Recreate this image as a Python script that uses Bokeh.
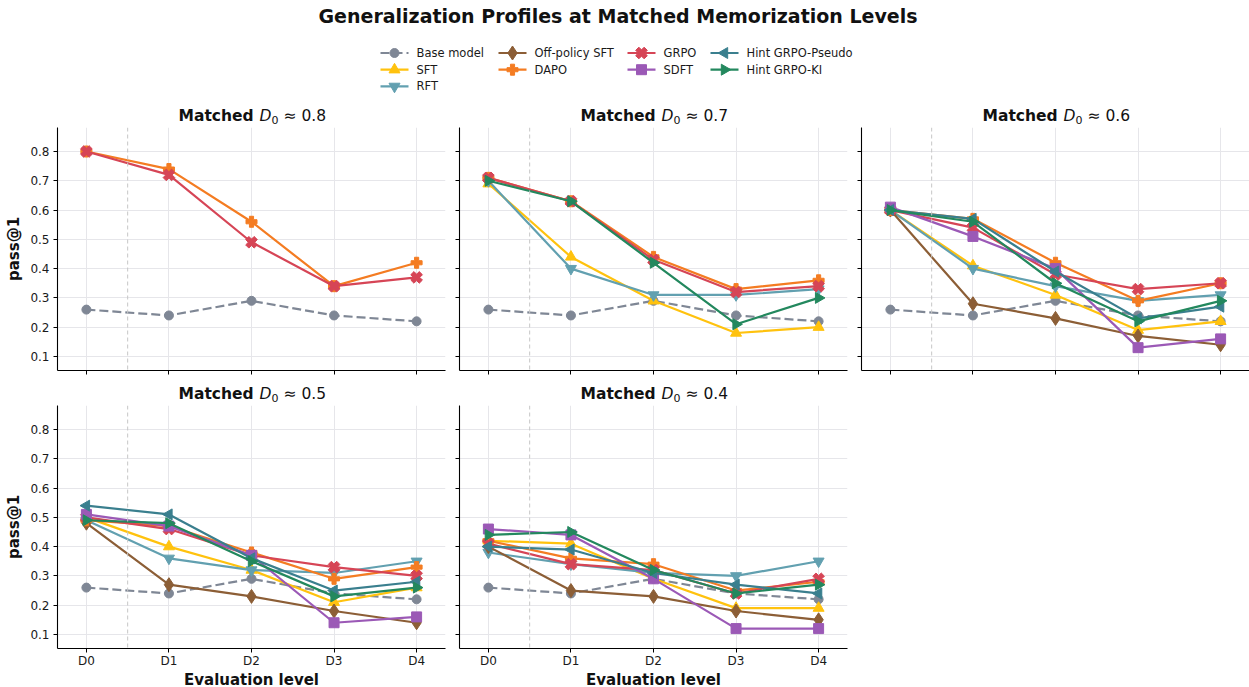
import math

from bokeh.embed import file_html
from bokeh.layouts import column, row
from bokeh.models import (ColumnDataSource, CustomJSTickFormatter, FixedTicker,
                          Label, PrintfTickFormatter, Range1d, Span)
from bokeh.plotting import figure
from bokeh.resources import INLINE

FONT = "DejaVu Sans"

# ---- data -----------------------------------------------------------------
LEVELS = ["D0", "D1", "D2", "D3", "D4"]
PANELS = ["0.8", "0.7", "0.6", "0.5", "0.4"]

BASE = [0.26, 0.24, 0.29, 0.24, 0.22]

SFT = {
    "0.7": [0.69, 0.44, 0.29, 0.18, 0.20],
    "0.6": [0.60, 0.41, 0.31, 0.19, 0.22],
    "0.5": [0.50, 0.40, 0.32, 0.21, 0.26],
    "0.4": [0.42, 0.41, 0.29, 0.19, 0.19],
}
RFT = {
    "0.7": [0.70, 0.40, 0.31, 0.31, 0.33],
    "0.6": [0.60, 0.40, 0.34, 0.29, 0.31],
    "0.5": [0.49, 0.36, 0.32, 0.31, 0.35],
    "0.4": [0.38, 0.34, 0.31, 0.30, 0.35],
}
OFF_POLICY_SFT = {
    "0.6": [0.60, 0.28, 0.23, 0.17, 0.14],
    "0.5": [0.48, 0.27, 0.23, 0.18, 0.14],
    "0.4": [0.40, 0.25, 0.23, 0.18, 0.15],
}
DAPO = {
    "0.8": [0.80, 0.74, 0.56, 0.34, 0.42],
    "0.7": [0.71, 0.63, 0.44, 0.33, 0.36],
    "0.6": [0.60, 0.57, 0.42, 0.29, 0.35],
    "0.5": [0.49, 0.47, 0.38, 0.29, 0.33],
    "0.4": [0.42, 0.36, 0.34, 0.25, 0.28],
}
GRPO = {
    "0.8": [0.80, 0.72, 0.49, 0.34, 0.37],
    "0.7": [0.71, 0.63, 0.43, 0.32, 0.34],
    "0.6": [0.60, 0.54, 0.38, 0.33, 0.35],
    "0.5": [0.50, 0.46, 0.37, 0.33, 0.30],
    "0.4": [0.41, 0.34, 0.32, 0.24, 0.29],
}
SDFT = {
    "0.6": [0.61, 0.51, 0.40, 0.13, 0.16],
    "0.5": [0.51, 0.47, 0.37, 0.14, 0.16],
    "0.4": [0.46, 0.44, 0.29, 0.12, 0.12],
}
HINT_PSEUDO = {
    "0.6": [0.60, 0.57, 0.39, 0.23, 0.27],
    "0.5": [0.54, 0.51, 0.36, 0.25, 0.28],
    "0.4": [0.40, 0.39, 0.31, 0.27, 0.24],
}
HINT_KI = {
    "0.7": [0.70, 0.63, 0.42, 0.21, 0.30],
    "0.6": [0.60, 0.56, 0.35, 0.22, 0.29],
    "0.5": [0.49, 0.48, 0.35, 0.23, 0.26],
    "0.4": [0.44, 0.45, 0.32, 0.24, 0.27],
}

METHODS = [
    ("Base model", {p: BASE for p in PANELS}),
    ("SFT", SFT),
    ("RFT", RFT),
    ("Off-policy SFT", OFF_POLICY_SFT),
    ("DAPO", DAPO),
    ("GRPO", GRPO),
    ("SDFT", SDFT),
    ("Hint GRPO-Pseudo", HINT_PSEUDO),
    ("Hint GRPO-KI", HINT_KI),
]

# ---- styles ---------------------------------------------------------------
STYLE = {
    "Base model":       dict(color="#7f8795", marker="circle", angle=0.0, size=9, dash="9 4"),
    "SFT":              dict(color="#ffc20e", marker="triangle", angle=0.0, size=11, dash="solid"),
    "RFT":              dict(color="#62a0b0", marker="inverted_triangle", angle=0.0, size=11, dash="solid"),
    "Off-policy SFT":   dict(color="#8c5e36", marker="diamond", angle=0.0, size=14, dash="solid"),
    "DAPO":             dict(color="#f47c22", marker="plus", angle=0.0, size=11, dash="solid"),
    "GRPO":             dict(color="#d64556", marker="plus", angle=math.pi / 4, size=12, dash="solid"),
    "SDFT":             dict(color="#9b59b6", marker="square", angle=0.0, size=10, dash="solid"),
    "Hint GRPO-Pseudo": dict(color="#3a7f8e", marker="triangle", angle=math.pi / 2, size=11, dash="solid"),
    "Hint GRPO-KI":     dict(color="#23885e", marker="triangle", angle=-math.pi / 2, size=11, dash="solid"),
}
LINE_W = 2.2

PAGE_W, PAGE_H = 1249, 687
FRAME_W, FRAME_H = 388, 243
X_LO, X_HI = -0.35, 4.35
Y_LO, Y_HI = 0.052, 0.882

# frame left edges of the three columns (pixels) -> column centres for titles
COL_LEFT = [57, 459, 861]
COL_CENTER = [c + FRAME_W / 2 for c in COL_LEFT]


def strip(height):
    """A blank full-width band whose data space equals its pixel space."""
    s = figure(width=PAGE_W, height=height, title=None,
               x_range=Range1d(0, PAGE_W), y_range=Range1d(0, height),
               output_backend="svg", toolbar_location=None, tools="",
               x_axis_type=None, y_axis_type=None,
               min_border_left=0, min_border_right=0, min_border_top=0, min_border_bottom=0)
    s.outline_line_color = None
    s.xgrid.visible = False
    s.ygrid.visible = False
    return s


def panel_title(s, cx, level, mid):
    """Bold 'Matched' followed by an italic D with subscript 0 and the level."""
    common = dict(text_font=FONT, text_color="#111111",
                  text_baseline="middle", text_align="left")
    s.add_layout(Label(x=cx - 73, y=mid, text="Matched", text_font_size="15.5px",
                       text_font_style="bold", **common))
    s.add_layout(Label(x=cx + 8, y=mid, text="D", text_font_size="15.5px",
                       text_font_style="italic", **common))
    s.add_layout(Label(x=cx + 20, y=mid - 4, text="0", text_font_size="11px", **common))
    s.add_layout(Label(x=cx + 32, y=mid, text="\u2248 " + level,
                       text_font_size="15.5px", **common))


def make_panel(level, show_x, show_y, borders):
    left, right, bottom = borders
    p = figure(width=left + FRAME_W + right, height=FRAME_H + bottom, title=None,
               x_range=Range1d(X_LO, X_HI), y_range=Range1d(Y_LO, Y_HI),
               output_backend="svg", toolbar_location=None, tools="",
               min_border_left=left, min_border_right=right,
               min_border_top=0, min_border_bottom=bottom)
    p.outline_line_color = None
    p.background_fill_color = "white"

    for ax in (p.xaxis[0], p.yaxis[0]):
        ax.axis_line_color = "#000000"
        ax.axis_line_width = 1.1
        ax.major_tick_line_color = "#000000"
        ax.major_tick_line_width = 1.0
        ax.major_tick_out = 4
        ax.major_tick_in = 0
        ax.minor_tick_line_color = None
        ax.major_label_text_font = FONT
        ax.major_label_text_font_size = "12px"
        ax.major_label_text_color = "#1a1a1a"
        ax.axis_label_text_font = FONT
        ax.axis_label_text_font_size = "15px"
        ax.axis_label_text_font_style = "bold"
        ax.axis_label_text_color = "#111111"
        ax.axis_label_standoff = 4
    p.xaxis.major_label_standoff = 1
    p.yaxis.major_label_standoff = 4

    p.xaxis.ticker = FixedTicker(ticks=list(range(len(LEVELS))))
    p.yaxis.ticker = FixedTicker(ticks=[round(0.1 * i, 1) for i in range(1, 9)])

    if show_x:
        p.xaxis.major_label_overrides = {i: lab for i, lab in enumerate(LEVELS)}
    else:
        p.xaxis.major_label_overrides = {i: "" for i in range(len(LEVELS))}
        p.xaxis.major_label_text_font_size = "0px"
        p.xaxis.major_label_standoff = 0
    if show_y:
        p.yaxis.formatter = PrintfTickFormatter(format="%.1f")
        p.yaxis.axis_label = "pass@1"
    else:
        p.yaxis.formatter = CustomJSTickFormatter(code="return ''")
        p.yaxis.major_label_text_font_size = "0px"
        p.yaxis.major_label_standoff = 0

    p.xgrid.grid_line_color = "#e6e6ea"
    p.ygrid.grid_line_color = "#e6e6ea"
    p.xgrid.grid_line_width = 1
    p.ygrid.grid_line_width = 1

    p.add_layout(Span(location=0.5, dimension="height", line_color="#c6c6c6",
                      line_width=1, line_dash="4 3"))

    xs = list(range(len(LEVELS)))
    for name, table in METHODS:
        if level not in table:
            continue
        st = STYLE[name]
        src = ColumnDataSource(dict(x=xs, y=table[level]))
        p.line("x", "y", source=src, line_color=st["color"], line_width=LINE_W,
               line_dash=st["dash"])
        p.scatter("x", "y", source=src, marker=st["marker"], size=st["size"],
                  angle=st["angle"], fill_color=st["color"], line_color=st["color"],
                  line_width=1)
    return p


# ---- header: suptitle + legend ----------------------------------------------
HEAD_H = 100
head = strip(HEAD_H)
head.add_layout(Label(x=617.5, y=HEAD_H - 15,
                      text="Generalization Profiles at Matched Memorization Levels",
                      text_font=FONT, text_font_size="19px", text_font_style="bold",
                      text_align="center", text_baseline="middle", text_color="#111111"))

# legend laid out column by column (4 columns, filled top to bottom)
LEGEND_COLUMNS = [
    (["Base model", "SFT", "RFT"], 380),
    (["Off-policy SFT", "DAPO"], 498),
    (["GRPO", "SDFT"], 627),
    (["Hint GRPO-Pseudo", "Hint GRPO-KI"], 710),
]
LEG_ROW0, LEG_PITCH, HANDLE_W, HANDLE_GAP = 52.5, 16.7, 28, 8
for names, x0 in LEGEND_COLUMNS:
    for k, name in enumerate(names):
        st = STYLE[name]
        yy = HEAD_H - (LEG_ROW0 + k * LEG_PITCH)
        head.segment(x0=[x0], y0=[yy], x1=[x0 + HANDLE_W], y1=[yy],
                     line_color=st["color"], line_width=LINE_W, line_dash=st["dash"])
        head.scatter(x=[x0 + HANDLE_W / 2], y=[yy], marker=st["marker"], size=st["size"],
                     angle=st["angle"], fill_color=st["color"], line_color=st["color"])
        head.add_layout(Label(x=x0 + HANDLE_W + HANDLE_GAP, y=yy, text=name,
                              text_font=FONT, text_font_size="11.5px",
                              text_color="#1a1a1a", text_baseline="middle"))

# ---- panel rows -------------------------------------------------------------
TITLE_H = 27
ROW1_BOTTOM = 8
ROW2_BOTTOM = 23
XLABEL_H = PAGE_H - HEAD_H - 2 * TITLE_H - 2 * FRAME_H - ROW1_BOTTOM - ROW2_BOTTOM

titles1 = strip(TITLE_H)
for cx, lvl in zip(COL_CENTER, PANELS[:3]):
    panel_title(titles1, cx, lvl, mid=TITLE_H - 15)
titles2 = strip(TITLE_H)
for cx, lvl in zip(COL_CENTER, PANELS[3:]):
    panel_title(titles2, cx, lvl, mid=TITLE_H - 15)

p1 = make_panel("0.8", False, True, (57, 7, ROW1_BOTTOM))
p2 = make_panel("0.7", False, False, (7, 7, ROW1_BOTTOM))
p3 = make_panel("0.6", False, False, (7, 0, ROW1_BOTTOM))
p4 = make_panel("0.5", True, True, (57, 7, ROW2_BOTTOM))
p5 = make_panel("0.4", True, False, (7, 7, ROW2_BOTTOM))

xlabels = strip(XLABEL_H)
for cx in COL_CENTER[:2]:
    xlabels.add_layout(Label(x=cx, y=XLABEL_H / 2, text="Evaluation level",
                             text_font=FONT, text_font_size="15px", text_font_style="bold",
                             text_align="center", text_baseline="middle",
                             text_color="#111111"))

layout = column(head, titles1, row(p1, p2, p3, spacing=0), titles2,
                row(p4, p5, spacing=0), xlabels, spacing=0)

open("out.html", "w").write(file_html(layout, INLINE))
